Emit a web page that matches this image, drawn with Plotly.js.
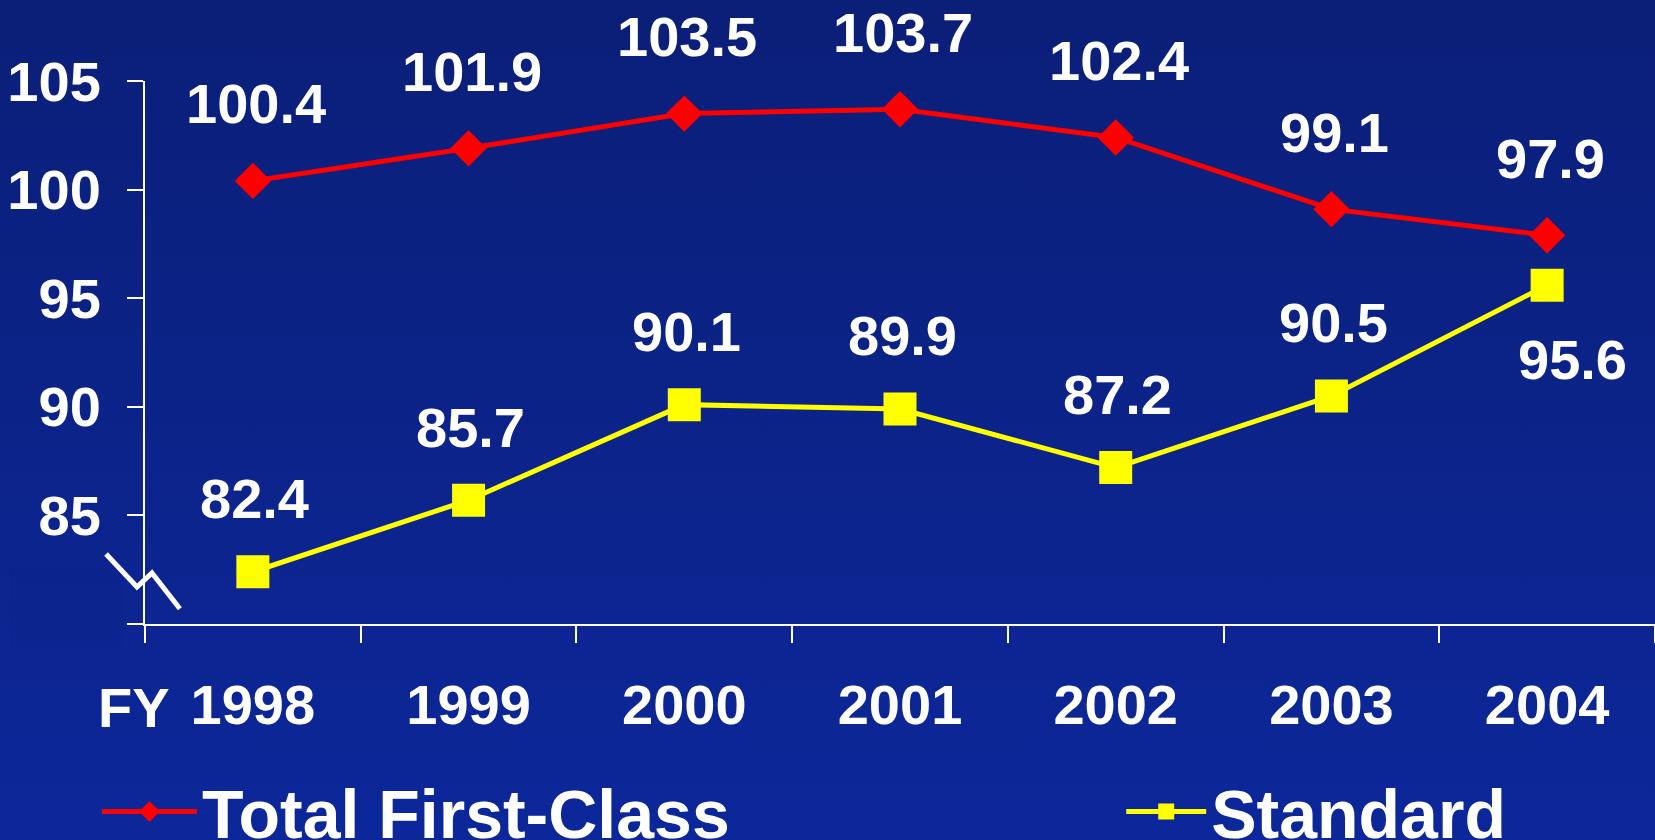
<!DOCTYPE html>
<html>
<head>
<meta charset="utf-8">
<script src="https://cdn.plot.ly/plotly-3.0.1.min.js"></script>
<style>
  html, body { margin: 0; padding: 0; }
  body { width: 1655px; height: 840px; overflow: hidden;
         background: linear-gradient(to bottom, #0b1f78 0%, #0c279a 100%); }
  #chart { width: 1655px; height: 840px; }
</style>
</head>
<body>
<div id="chart"></div>
<script>
const years = ['1998', '1999', '2000', '2001', '2002', '2003', '2004'];
const firstClass = [100.4, 101.9, 103.5, 103.7, 102.4, 99.1, 97.9];
const standard = [82.4, 85.7, 90.1, 89.9, 87.2, 90.5, 95.6];
const yTickVals = [80, 85, 90, 95, 100, 105];
const yTickText = ['', '85', '90', '95', '100', '105'];

const FONT = 'Liberation Sans, Arial, Helvetica, sans-serif';

const traces = [
  {
    name: 'Total First-Class', x: years, y: firstClass, type: 'scatter', mode: 'lines+markers',
    line: {color: '#ff0000', width: 5},
    marker: {symbol: 'diamond', size: 28, color: '#ff0000'},
    hoverinfo: 'skip', legend: 'legend'
  },
  {
    name: 'Standard', x: years, y: standard, type: 'scatter', mode: 'lines+markers',
    line: {color: '#ffff00', width: 5},
    marker: {symbol: 'square', size: 33, color: '#ffff00'},
    hoverinfo: 'skip', legend: 'legend2'
  }
];

const labelFont = {family: FONT, size: 56, color: '#ffffff', weight: 'bold'};
const annotations = [];
firstClass.forEach((v, i) => annotations.push({
  x: i, y: v, xref: 'x', yref: 'y', text: v.toFixed(1), showarrow: false,
  yshift: 77, xshift: 3, font: labelFont
}));
standard.forEach((v, i) => {
  const last = i === standard.length - 1;
  annotations.push({
    x: i, y: v, xref: 'x', yref: 'y', text: v.toFixed(1), showarrow: false,
    yshift: last ? -74 : 73, xshift: last ? 25 : 2, font: labelFont
  });
});
annotations.push({
  x: -0.0073, y: -0.153, xref: 'paper', yref: 'paper', text: 'FY', showarrow: false,
  xanchor: 'center', yanchor: 'middle', font: labelFont
});

const legendFont = {family: FONT, size: 68, color: '#ffffff', weight: 'bold'};

const layout = {
  width: 1655, height: 840,
  paper_bgcolor: 'rgba(0,0,0,0)', plot_bgcolor: 'rgba(0,0,0,0)',
  margin: {l: 145, r: 0, t: 81, b: 216, autoexpand: false},
  showlegend: true,
  legend: {
    orientation: 'h', x: -0.0318, xanchor: 'left', y: -0.346, yanchor: 'middle',
    font: legendFont, bgcolor: 'rgba(0,0,0,0)', itemwidth: 95
  },
  legend2: {
    orientation: 'h', x: 0.6465, xanchor: 'left', y: -0.346, yanchor: 'middle',
    font: legendFont, bgcolor: 'rgba(0,0,0,0)', itemwidth: 80
  },
  xaxis: {
    type: 'category', range: [-0.5, 6.5], fixedrange: true,
    showline: true, linecolor: '#ffffff', linewidth: 2,
    ticks: 'outside', tickson: 'boundaries', ticklen: 17, tickwidth: 2, tickcolor: '#ffffff',
    showgrid: false, zeroline: false,
    ticklabelstandoff: 31,
    tickfont: {family: FONT, size: 56, color: '#ffffff', weight: 'bold'}
  },
  yaxis: {
    range: [80, 105], fixedrange: true,
    tickvals: yTickVals, ticktext: yTickText,
    showline: true, linecolor: '#ffffff', linewidth: 2,
    ticks: 'outside', ticklen: 16, tickwidth: 2, tickcolor: '#ffffff',
    showgrid: false, zeroline: false,
    ticklabelstandoff: 15,
    tickfont: {family: FONT, size: 56, color: '#ffffff', weight: 'bold'}
  },
  shapes: [
    {type: 'rect', xref: 'paper', yref: 'paper', x0: -0.0894, x1: -0.0146, y0: -0.0442, y1: 0.103,
     fillcolor: 'rgba(10,36,140,0.45)', line: {width: 0}, layer: 'below'},
    {type: 'path', xref: 'paper', yref: 'paper',
     path: 'M -0.0258,0.129 L -0.0053,0.068 L 0.0046,0.094 L 0.0231,0.028',
     line: {color: '#ffffff', width: 5}}
  ],
  annotations: annotations
};

Plotly.newPlot('chart', traces, layout, {displayModeBar: false, staticPlot: true});
</script>
</body>
</html>
